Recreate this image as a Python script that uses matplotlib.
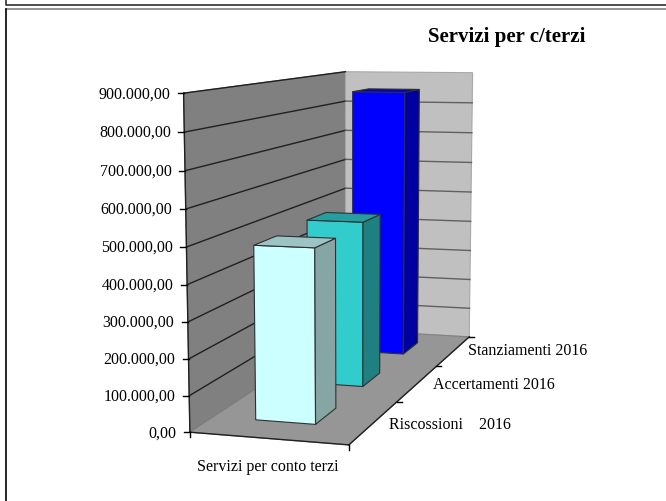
import numpy as np
import matplotlib
matplotlib.use("Agg")
import matplotlib.pyplot as plt
from matplotlib.patches import Polygon

# values
categories = ["Riscossioni    2016", "Accertamenti 2016", "Stanziamenti 2016"]
values = [485000, 495000, 850000]
y_ticks = [0, 100000, 200000, 300000, 400000, 500000, 600000, 700000, 800000, 900000]
y_labels = ["0,00", "100.000,00", "200.000,00", "300.000,00", "400.000,00",
            "500.000,00", "600.000,00", "700.000,00", "800.000,00", "900.000,00"]
x_label = "Servizi per conto terzi"
title = "Servizi per c/terzi"

front = ["#CCFFFF", "#33CCCC", "#0000FF"]
side = ["#86A6A6", "#1E8080", "#0000A0"]
top = ["#9CC4C4", "#249E9E", "#0000C0"]

# box corners on screen, used to fit the perspective of the fake 3d box
# (u across, v depth, z value) -> pixel
calib = [((0, 0, 0), (189, 430)), ((0, 0, 900000), (184, 94)),
         ((0, 0, 400000), (186.5, 284)),
         ((0, 1, 0), (347, 332)), ((0, 1, 900000), (345, 71)),
         ((1, 1, 0), (468, 335)), ((1, 1, 900000), (473, 73)),
         ((1, 0, 0), (350, 447))]


def fitProjection(calib):
    rows = []
    rhs = []
    for (u, v, z), (px, py) in calib:
        z = z / 900000.0
        rows.append([u, v, z, 1, 0, 0, 0, 0, -px * u, -px * v, -px * z])
        rhs.append(px)
        rows.append([0, 0, 0, 0, u, v, z, 1, -py * u, -py * v, -py * z])
        rhs.append(py)
    sol = np.linalg.lstsq(np.array(rows, float), np.array(rhs, float), rcond=None)[0]
    return np.append(sol, 1.0).reshape(3, 4)


M = fitProjection(calib)


def proj(u, v, z):
    p = M @ np.array([u, v, z / 900000.0, 1.0])
    return p[0] / p[2], p[1] / p[2]


plt.rcParams["font.family"] = "Liberation Serif"
fig = plt.figure(figsize=(6.66, 5.01), dpi=100)
ax = fig.add_axes([0, 0, 1, 1])
ax.set_xlim(0, 666)
ax.set_ylim(501, 0)
ax.axis("off")

# page frames
ax.plot([5.5, 5.5, 666], [0, 4.5, 4.5], color="#303030", lw=1.2)
ax.plot([5.5, 666], [8.5, 8.5], color="#808080", lw=1.2)
ax.plot([5.5, 5.5], [8.5, 501], color="black", lw=1.2)

zmax = y_ticks[-1]


def quad(pts, fc, ec="none", lw=0.8, zorder=2):
    ax.add_patch(Polygon([proj(*p) for p in pts], closed=True, fc=fc, ec=ec, lw=lw, zorder=zorder))


# walls and floor
quad([(0, 0, 0), (0, 0, zmax), (0, 1, zmax), (0, 1, 0)], "#808080", "#707070")
quad([(0, 1, 0), (0, 1, zmax), (1, 1, zmax), (1, 1, 0)], "#C0C0C0", "#A8A8A8")
quad([(0, 0, 0), (0, 1, 0), (1, 1, 0), (1, 0, 0)], "#969696", "#808080")

for t in y_ticks[1:-1]:
    a, b, c = proj(0, 0, t), proj(0, 1, t), proj(1, 1, t)
    ax.plot([a[0], b[0]], [a[1], b[1]], color="#202020", lw=1.0, zorder=3)
    ax.plot([b[0], c[0]], [b[1], c[1]], color="#606060", lw=1.0, zorder=3)

# axes lines, ticks
for p, q in [((0, 0, 0), (0, 0, zmax)), ((0, 0, 0), (1, 0, 0)), ((1, 0, 0), (1, 1, 0)),
             ((0, 0, zmax), (0, 1, zmax))]:
    a, b = proj(*p), proj(*q)
    ax.plot([a[0], b[0]], [a[1], b[1]], color="#202020", lw=1.0, zorder=3)

for t, lab in zip(y_ticks, y_labels):
    px, py = proj(0, 0, t)
    ax.plot([px - 6, px], [py, py], color="black", lw=1.0, zorder=3)
    ax.text(px - 13.5, py + 1, lab, ha="right", va="center", fontsize=11.5, color="black")

for u in [0, 1]:
    px, py = proj(u, 0, 0)
    ax.plot([px, px], [py, py + 5], color="black", lw=1.0, zorder=3)

for v in [1 / 3.0, 2 / 3.0, 1]:
    px, py = proj(1, v, 0)
    ax.plot([px, px + 5], [py, py], color="black", lw=1.0, zorder=3)

# bars, back to front
u0, u1 = 0.28, 0.67
depth = [(0.12, 0.25), (0.44, 0.57), (0.77, 0.90)]
for i in [2, 1, 0]:
    v0, v1 = depth[i]
    h = values[i]
    z = 7 - i
    edge = "#303030"
    quad([(u0, v0, 0), (u0, v0, h), (u1, v0, h), (u1, v0, 0)], front[i], edge, zorder=z)
    quad([(u1, v0, 0), (u1, v0, h), (u1, v1, h), (u1, v1, 0)], side[i], edge, zorder=z)
    quad([(u0, v0, h), (u0, v1, h), (u1, v1, h), (u1, v0, h)], top[i], edge, zorder=z)

# text
ax.text(506.5, 37, title, ha="center", va="center", fontsize=15, fontweight="bold", color="black")
ax.text(268, 467, x_label, ha="center", va="center", fontsize=11.5, color="black")
label_x = [389, 433, 468]
label_y = [425, 385, 351]
for lab, lx, ly in zip(categories, label_x, label_y):
    ax.text(lx, ly, lab, ha="left", va="center", fontsize=11.5, color="black")

fig.savefig("out.png", dpi=100)
